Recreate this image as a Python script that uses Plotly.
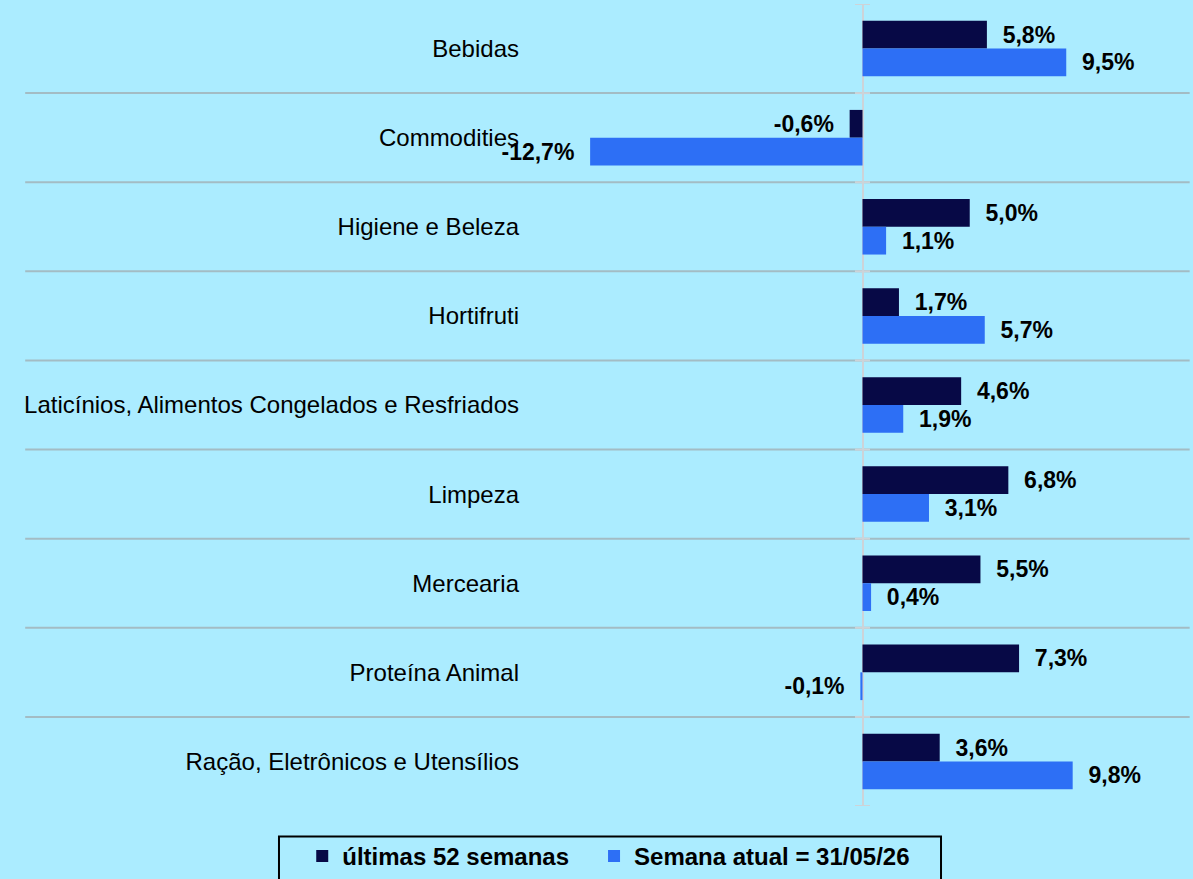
import plotly.graph_objects as go

categories = [
    "Bebidas",
    "Commodities",
    "Higiene e Beleza",
    "Hortifruti",
    "Laticínios, Alimentos Congelados e Resfriados",
    "Limpeza",
    "Mercearia",
    "Proteína Animal",
    "Ração, Eletrônicos e Utensílios",
]
ultimas_52 = [5.8, -0.6, 5.0, 1.7, 4.6, 6.8, 5.5, 7.3, 3.6]
semana_atual = [9.5, -12.7, 1.1, 5.7, 1.9, 3.1, 0.4, -0.1, 9.8]
series_names = ["últimas 52 semanas", "Semana atual = 31/05/26"]

BG = "#ABECFF"
DARK = "#070946"
BLUE = "#2D6FF5"
FONT = "Liberation Sans, Arial, sans-serif"
NB = "\u00a0\u00a0"


def fmt(v):
    s = f"{v:.1f}".replace(".", ",") + "%"
    return (NB + s) if v >= 0 else (s + NB)


fig = go.Figure()
traces = [
    (series_names[0] + "\u00a0\u00a0\u00a0", ultimas_52, DARK),
    (series_names[1], semana_atual, BLUE),
]
for name, vals, col in traces:
    fig.add_trace(go.Bar(
        y=categories, x=vals, name=name, orientation="h",
        marker=dict(color=col, line=dict(width=0)),
        text=[fmt(v) for v in vals], textposition="outside",
        textfont=dict(family=FONT, size=23, color="black", weight="bold"),
        constraintext="none", cliponaxis=False,
    ))

n = len(categories)
shapes = []
# category separator lines spanning the full width
for i in range(n - 1):
    shapes.append(dict(type="line", xref="paper", yref="y", x0=-0.743, x1=0.995,
                       y0=i + 0.5, y1=i + 0.5, line=dict(color="#A3BCC4", width=2),
                       layer="below"))
# crossing tick marks on the zero axis
for i in range(n + 1):
    shapes.append(dict(type="line", xref="x", yref="y", x0=-0.35, x1=0.35,
                       y0=i - 0.5, y1=i - 0.5, line=dict(color="#CDD3D8", width=2),
                       layer="above"))
# legend frame
shapes.append(dict(type="rect", xref="paper", yref="paper",
                   x0=-0.3642, x1=0.6239, y0=-0.038, y1=-0.095,
                   line=dict(color="black", width=2), fillcolor="rgba(0,0,0,0)"))

fig.update_layout(
    width=1193, height=879,
    paper_bgcolor=BG, plot_bgcolor=BG,
    margin=dict(l=523, r=0, t=3.5, b=71),
    barmode="group", bargap=0.377, bargroupgap=0,
    font=dict(family=FONT, size=24, color="black"),
    xaxis=dict(range=[-15.83, 15.41], showgrid=False, showticklabels=False,
               zeroline=True, zerolinecolor="#CDD3D8", zerolinewidth=2, fixedrange=True),
    yaxis=dict(type="category", categoryorder="array", categoryarray=categories,
               range=[n - 0.5, -0.5], showgrid=False, ticks="", showline=False,
               ticklabelstandoff=3,
               tickfont=dict(family=FONT, size=24, color="black")),
    showlegend=True,
    legend=dict(orientation="h", x=-0.3295, xanchor="left", y=-0.0629, yanchor="middle",
                bgcolor="rgba(0,0,0,0)", borderwidth=0,
                font=dict(family=FONT, size=24, color="black", weight="bold")),
    shapes=shapes,
)

fig.write_html(
    "out.html",
    config={"displayModeBar": False},
    post_script="document.body.style.margin='0';document.body.style.background='" + BG + "';",
)
